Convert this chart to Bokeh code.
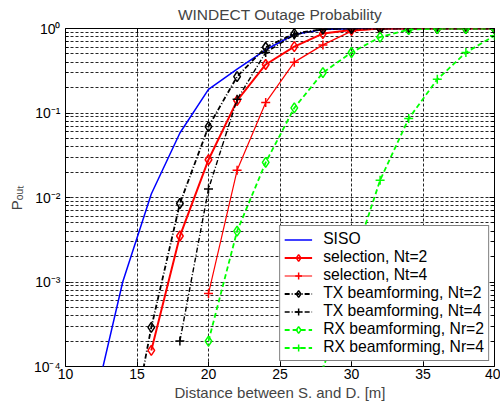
import math
from bokeh.plotting import figure
from bokeh.models import (FixedTicker, LinearAxis, LogAxis, Legend, LegendItem,
                          CustomJSTickFormatter, Range1d)
from bokeh.embed import file_html
from bokeh.resources import INLINE

# ---- data ----
d_siso = [12, 14, 16, 18, 20, 22, 24, 26, 28, 30, 32, 34, 36, 38, 40]
p_siso = [3.5e-5, 1.0e-3, 1.1e-2, 5.8e-2, 0.19, 0.33, 0.56, 0.85, 0.97, 0.995, 1, 1, 1, 1, 1]

d_sel2 = [16, 18, 20, 22, 24, 26, 28, 30, 32, 34, 36, 38, 40]
p_sel2 = [1.55e-4, 3.5e-3, 0.028, 0.14, 0.375, 0.61, 0.87, 0.96, 0.995, 1, 1, 1, 1]

d_sel4 = [20, 22, 24, 26, 28, 30, 32, 34, 36, 38, 40]
p_sel4 = [7.3e-4, 0.021, 0.133, 0.40, 0.64, 0.93, 0.995, 1, 1, 1, 1]

d_tx2 = [14, 16, 18, 20, 22, 24, 26, 28, 30, 32, 34, 36, 38, 40]
p_tx2 = [5e-6, 2.9e-4, 8.5e-3, 0.069, 0.27, 0.60, 0.87, 0.985, 1, 1, 1, 1, 1, 1]

d_tx4 = [18, 20, 22, 24, 26, 28, 30, 32, 34, 36, 38, 40]
p_tx4 = [2.0e-4, 0.0126, 0.145, 0.52, 0.84, 0.98, 1, 1, 1, 1, 1, 1]

d_rx2 = [20, 22, 24, 26, 28, 30, 32, 34, 36, 38, 40]
p_rx2 = [2.0e-4, 4.0e-3, 0.026, 0.115, 0.30, 0.52, 0.79, 0.97, 1, 1, 1]

d_rx4 = [28, 30, 32, 34, 36, 38, 40]
p_rx4 = [9e-5, 1.5e-3, 0.016, 0.086, 0.25, 0.52, 0.82]

x_ticks = [10, 15, 20, 25, 30, 35, 40]
y_ticks = [1e-4, 1e-3, 1e-2, 1e-1, 1]

title_text = "WINDECT Outage Probability"
x_label = "Distance between S. and D. [m]"
y_label = "P\u2092\u1d64\u209c"   # P_out

FONT = "Liberation Sans"

p = figure(width=500, height=408, output_backend="svg", toolbar_location=None,
           y_axis_type="log", x_range=Range1d(10, 40), y_range=Range1d(1e-4, 1),
           min_border_left=65, min_border_right=6, min_border_top=28, min_border_bottom=42)

p.background_fill_color = "white"
p.border_fill_color = "white"
p.outline_line_color = "black"
p.outline_line_width = 1

# title
p.title.text = title_text
p.title.align = "center"
p.title.vertical_align = "middle"
p.title.text_font = FONT
p.title.text_font_size = "15.5px"
p.title.text_font_style = "normal"
p.title.standoff = 9

# tickers
minor = [m * 10.0 ** e for e in range(-4, 0) for m in range(2, 10)]
yticker = FixedTicker(ticks=y_ticks, minor_ticks=minor)
xticker = FixedTicker(ticks=x_ticks)

fmt = CustomJSTickFormatter(code="""
const e = Math.round(Math.log10(tick));
const sup = {'-':'\u207b','0':'\u2070','1':'\u00b9','2':'\u00b2','3':'\u00b3','4':'\u2074'};
return '10' + String(e).split('').map(c => sup[c]).join('');
""")

for ax in p.yaxis:
    ax.ticker = yticker
    ax.formatter = fmt
for ax in p.xaxis:
    ax.ticker = xticker

def style_axis(ax):
    ax.axis_line_color = None
    ax.major_tick_in = 5
    ax.major_tick_out = 0
    ax.minor_tick_in = 3
    ax.minor_tick_out = 0
    ax.major_tick_line_color = "black"
    ax.minor_tick_line_color = "black"
    ax.major_label_text_font = FONT
    ax.major_label_text_font_size = "14px"
    ax.major_label_text_color = "black"

for ax in p.xaxis + p.yaxis:
    style_axis(ax)

p.xaxis.major_label_standoff = 2
p.xaxis.axis_label = x_label
p.xaxis.axis_label_text_font = FONT
p.xaxis.axis_label_text_font_size = "15px"
p.xaxis.axis_label_text_font_style = "normal"
p.xaxis.axis_label_standoff = 2

p.yaxis.major_label_standoff = 5
p.yaxis.axis_label = y_label
p.yaxis.axis_label_text_font = FONT
p.yaxis.axis_label_text_font_size = "15px"
p.yaxis.axis_label_text_font_style = "normal"
p.yaxis.axis_label_standoff = 6

# mirrored axes (ticks only)
top = LinearAxis(ticker=xticker)
right = LogAxis(ticker=yticker)
for ax in (top, right):
    style_axis(ax)
    ax.major_label_text_font_size = "0px"
    ax.major_label_standoff = 0
    ax.major_label_text_alpha = 0
p.add_layout(top, "above")
p.add_layout(right, "right")

# grids
for g in (p.xgrid, p.ygrid):
    g.grid_line_color = "black"
    g.grid_line_dash = "3 2"
    g.grid_line_width = 1
    g.grid_line_alpha = 0.85
p.xgrid.ticker = xticker
p.ygrid.ticker = yticker
p.ygrid.minor_grid_line_color = "black"
p.ygrid.minor_grid_line_dash = "3 2"
p.ygrid.minor_grid_line_alpha = 0.85

BLUE, RED, BLACK, GREEN = "#0000ff", "#ff0000", "#000000", "#00ff00"
DASHDOT = "5 2 1 2"
DASH = "5 3"

items = []
r = p.line(d_siso, p_siso, line_color=BLUE, line_width=1.5)
items.append(LegendItem(label="SISO", renderers=[r]))

def series(d, v, color, width, dash, marker, label):
    l = p.line(d, v, line_color=color, line_width=width, line_dash=dash)
    s = p.scatter(d, v, marker=marker, size=10 if marker == "diamond" else 9,
                  line_color=color, line_width=1.5, fill_alpha=0)
    items.append(LegendItem(label=label, renderers=[l, s]))

series(d_sel2, p_sel2, RED, 2, "solid", "diamond", "selection, Nt=2")
series(d_sel4, p_sel4, RED, 1.2, "solid", "cross", "selection, Nt=4")
series(d_tx2, p_tx2, BLACK, 1.8, DASHDOT, "diamond", "TX beamforming, Nt=2")
series(d_tx4, p_tx4, BLACK, 1.4, DASHDOT, "cross", "TX beamforming, Nt=4")
series(d_rx2, p_rx2, GREEN, 1.8, DASH, "diamond", "RX beamforming, Nr=2")
series(d_rx4, p_rx4, GREEN, 1.8, DASH, "cross", "RX beamforming, Nr=4")

legend = Legend(items=items, location="bottom_right")
legend.margin = 5
legend.padding = 4
legend.spacing = 0
legend.label_height = 17
legend.glyph_height = 17
legend.glyph_width = 28
legend.label_standoff = 11
legend.label_text_font = FONT
legend.label_text_font_size = "15.7px"
legend.label_text_color = "black"
legend.border_line_color = "black"
legend.border_line_width = 1
legend.background_fill_color = "white"
legend.background_fill_alpha = 1
p.add_layout(legend, "center")

open("out.html", "w").write(file_html(p, INLINE))
